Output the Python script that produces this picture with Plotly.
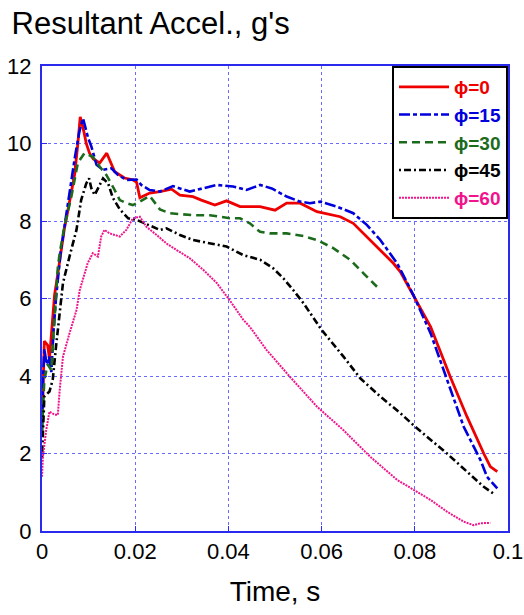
import plotly.graph_objects as go

# ---- data ----
t_0 = [0, 0.0002, 0.0005, 0.0012, 0.0016, 0.002, 0.0023, 0.0027, 0.0031, 0.0041, 0.0048, 0.0056,
       0.0063, 0.007, 0.0077, 0.0082, 0.0090, 0.0095, 0.0102, 0.011, 0.0124, 0.0139, 0.0156, 0.0177,
       0.0195, 0.0203, 0.021, 0.0231, 0.0253, 0.0278, 0.0296, 0.0324, 0.0342, 0.0371, 0.0396, 0.0425,
       0.0468, 0.05, 0.0525, 0.0554, 0.059, 0.064, 0.0668, 0.0711, 0.0754, 0.0769, 0.0801, 0.0834,
       0.0876, 0.0912, 0.0948, 0.0962, 0.0977]
y_0 = [3.0, 3.47, 4.9, 4.8, 4.45, 5.1, 5.6, 6.1, 6.4, 7.2, 7.8, 8.3,
       8.8, 9.2, 10.0, 10.69, 10.3, 10.0, 9.75, 9.6, 9.5, 9.75, 9.27, 9.11,
       9.06, 9.0, 8.6, 8.72, 8.76, 8.82, 8.67, 8.63, 8.54, 8.41, 8.52, 8.37,
       8.37, 8.28, 8.46, 8.46, 8.24, 8.11, 7.94, 7.42, 6.91, 6.69, 6.0, 5.27,
       3.98, 2.95, 2.0, 1.66, 1.53]

t_15 = [0, 0.0002, 0.0005, 0.001, 0.0015, 0.002, 0.0025, 0.003, 0.004, 0.005, 0.006, 0.007, 0.008,
        0.0088, 0.0099, 0.0106, 0.0117, 0.0131, 0.0149, 0.0163, 0.0181, 0.0203, 0.0213, 0.0231,
        0.0253, 0.0281, 0.0317, 0.0339, 0.0375, 0.041, 0.0439, 0.0468, 0.0493, 0.0525, 0.0554,
        0.0575, 0.0597, 0.0633, 0.0668, 0.0697, 0.0726, 0.0762, 0.0797, 0.0834, 0.0869, 0.0905,
        0.0941, 0.0955, 0.0977]
y_15 = [2.6, 3.9, 4.7, 4.3, 4.5, 4.1, 5.2, 6.0, 7.2, 8.0, 8.9, 9.6, 10.3,
        10.65, 10.14, 9.92, 9.45, 9.32, 9.36, 9.19, 9.06, 9.07, 8.93, 8.8,
        8.76, 8.9, 8.76, 8.82, 8.93, 8.89, 8.8, 8.93, 8.84, 8.63, 8.5,
        8.46, 8.5, 8.37, 8.2, 7.9, 7.51, 6.91, 6.09, 5.1, 3.9, 2.69,
        1.83, 1.4, 1.1]

t_30 = [0, 0.0002, 0.0005, 0.0012, 0.002, 0.0023, 0.0027, 0.003, 0.0034, 0.0038, 0.0048, 0.0063,
        0.0077, 0.0091, 0.0109, 0.0124, 0.0138, 0.0152, 0.0167, 0.0181, 0.0195, 0.021, 0.0231,
        0.0253, 0.0274, 0.0324, 0.036, 0.0403, 0.0425, 0.0446, 0.0468, 0.0489, 0.0525, 0.0561,
        0.059, 0.0625, 0.0661, 0.069, 0.0719]
y_30 = [2.6, 3.3, 3.9, 4.3, 4.15, 4.75, 5.45, 6.1, 6.8, 7.17, 7.85, 8.63,
        9.5, 9.75, 9.66, 9.4, 9.19, 8.89, 8.54, 8.46, 8.41, 8.5, 8.65,
        8.3, 8.2, 8.15, 8.15, 8.07, 8.07, 7.94, 7.72, 7.68, 7.68, 7.61,
        7.51, 7.3, 7.0, 6.65, 6.3]

t_45 = [0, 0.0001, 0.0005, 0.0016, 0.0023, 0.003, 0.0038, 0.0045, 0.0059, 0.0074, 0.0084, 0.0095,
        0.0101, 0.0106, 0.0113, 0.012, 0.0131, 0.0142, 0.0152, 0.0167, 0.0185, 0.0203, 0.0231,
        0.0253, 0.0267, 0.0296, 0.0324, 0.036, 0.0396, 0.0432, 0.0468, 0.0496, 0.0518, 0.0539,
        0.0561, 0.06, 0.0647, 0.0683, 0.0726, 0.0769, 0.0801, 0.0869, 0.0912, 0.0948, 0.0973]
y_45 = [1.9, 2.27, 3.47, 3.6, 3.9, 4.75, 5.6, 6.4, 7.08, 7.77, 8.54, 8.97,
        9.1, 8.84, 8.67, 8.85, 9.1, 8.97, 8.6, 8.3, 8.07, 8.03, 7.88,
        7.77, 7.81, 7.64, 7.51, 7.42, 7.34, 7.12, 7.0, 6.78, 6.52, 6.22,
        5.88, 5.19, 4.5, 3.94, 3.47, 3.04, 2.69, 2.0, 1.53, 1.14, 0.93]

t_60 = [0, 0.0002, 0.0009, 0.0016, 0.0027, 0.0034, 0.0038, 0.0045, 0.0059, 0.0074, 0.0081, 0.0098,
        0.0109, 0.012, 0.0127, 0.0134, 0.0145, 0.0167, 0.0181, 0.0195, 0.021, 0.0224, 0.0246,
        0.0267, 0.0289, 0.0317, 0.0346, 0.0375, 0.0403, 0.0432, 0.0446, 0.0482, 0.0532, 0.059,
        0.0647, 0.0704, 0.0762, 0.0797, 0.0834, 0.0869, 0.0905, 0.0926, 0.0941, 0.0962]
y_60 = [1.4, 1.92, 2.6, 3.08, 3.0, 3.0, 3.64, 4.5, 5.1, 5.7, 6.22, 6.91,
        7.17, 7.08, 7.6, 7.77, 7.68, 7.6, 7.77, 8.07, 8.11, 7.85, 7.64,
        7.42, 7.25, 7.04, 6.74, 6.4, 5.95, 5.45, 5.27, 4.67, 3.98, 3.21,
        2.6, 1.92, 1.32, 1.06, 0.8, 0.5, 0.24, 0.15, 0.2, 0.21]

series_names = ["ϕ=0", "ϕ=15", "ϕ=30", "ϕ=45", "ϕ=60"]
series_t = [t_0, t_15, t_30, t_45, t_60]
series_y = [y_0, y_15, y_30, y_45, y_60]

x_ticks = [0, 0.02, 0.04, 0.06, 0.08, 0.1]
x_tick_labels = ["0", "0.02", "0.04", "0.06", "0.08", "0.1"]
y_ticks = [0, 2, 4, 6, 8, 10, 12]

# ---- styles ----
colors = ["#EE0000", "#0000DD", "#1C6B1C", "#000000", "#F0158C"]
dashes = ["solid", "11px,3px,4px,3px", "8px,5px", "2px,3px,7px,3px", "2px,1px"]
widths = [2.8, 2.6, 2.6, 2.6, 2.0]

fig = go.Figure()
for name, t, y, c, d, w in zip(series_names, series_t, series_y, colors, dashes, widths):
    fig.add_trace(go.Scatter(
        x=t, y=y, mode="lines", line=dict(color=c, dash=d, width=w),
        name=f"<b><span style='color:{c}'>{name}</span></b>",
    ))

font_family = "Liberation Sans, Arial, sans-serif"
fig.update_layout(
    width=524, height=615,
    margin=dict(l=42, r=16, t=66, b=84),
    paper_bgcolor="white", plot_bgcolor="white",
    font=dict(family=font_family, color="black", size=22),
    title=dict(text="Resultant Accel., g's", xref="container", yref="container",
               x=0.022, xanchor="left", y=0.962, yanchor="middle",
               font=dict(size=31, family=font_family, color="black")),
    showlegend=True,
    legend=dict(x=1, xanchor="right", y=1, yanchor="top",
                bordercolor="black", borderwidth=2, bgcolor="white",
                font=dict(size=19, family=font_family),
                itemwidth=50, tracegroupgap=0),
)
fig.update_xaxes(
    range=[0, 0.1], tickvals=x_ticks, ticktext=x_tick_labels,
    showline=True, linecolor="#2A2AEE", linewidth=2, mirror=True,
    showgrid=True, gridcolor="#6A6AFF", gridwidth=1, griddash="dot",
    ticks="inside", ticklen=5, tickcolor="#2A2AEE",
    zeroline=False, automargin=False,
    title=dict(text="Time, s", font=dict(size=28), standoff=18),
)
fig.update_yaxes(
    range=[0, 12], tickvals=y_ticks,
    showline=True, linecolor="#2A2AEE", linewidth=2, mirror=True,
    showgrid=True, gridcolor="#6A6AFF", gridwidth=1, griddash="dot",
    ticks="inside", ticklen=5, tickcolor="#2A2AEE",
    zeroline=False, automargin=False, ticklabelstandoff=4,
)

fig.write_html("out.html")
